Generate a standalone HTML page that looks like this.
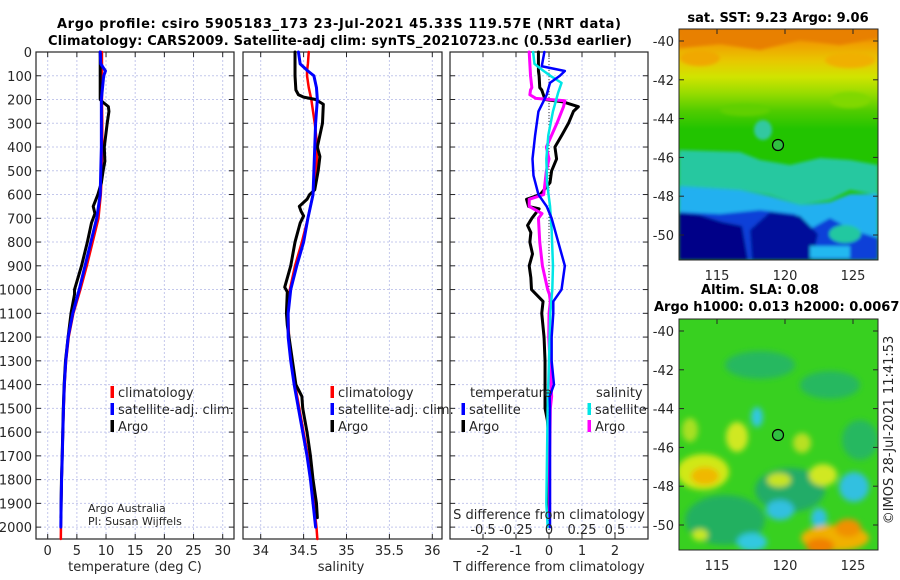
<!DOCTYPE html>
<html><head><meta charset="utf-8">
<style>
html,body{margin:0;padding:0;background:#fff;}
svg{display:block;font-family:"DejaVu Sans","Liberation Sans",sans-serif;}
.tk{font-size:13px;fill:#262626;}
.ttl{font-size:13px;font-weight:bold;fill:#000;}
</style></head>
<body>
<svg id="chart" width="900" height="580" viewBox="0 0 900 580" xmlns="http://www.w3.org/2000/svg">
<defs>
<linearGradient id="sstTop" x1="0" y1="0" x2="0" y2="1">
<stop offset="0" stop-color="#e07800"/><stop offset="0.15" stop-color="#f0a000"/>
<stop offset="0.32" stop-color="#e8c800"/><stop offset="0.48" stop-color="#d0e400"/>
<stop offset="0.64" stop-color="#98dc00"/><stop offset="0.82" stop-color="#50cc00"/>
<stop offset="1" stop-color="#22c400"/></linearGradient>
<filter id="blur3"><feGaussianBlur stdDeviation="3"/></filter>
<filter id="blur2"><feGaussianBlur stdDeviation="1.5"/></filter>
<clipPath id="clipMap1"><rect x="679" y="29" width="199" height="231"/></clipPath>
<clipPath id="clipMap2"><rect x="679" y="319" width="199" height="231"/></clipPath>
</defs>
<text class="ttl" x="57" y="28" textLength="564">Argo profile: csiro 5905183_173 23-Jul-2021 45.33S 119.57E (NRT data)</text>
<text class="ttl" x="48" y="45" textLength="584">Climatology: CARS2009. Satellite-adj clim: synTS_20210723.nc (0.53d earlier)</text>
<g id="panels"></g>
<g>
<g clip-path="url(#clipMap1)">
<rect x="679" y="29" width="199" height="231" fill="#22c400"/>
<rect x="679" y="29" width="199" height="100" fill="url(#sstTop)"/>
<g filter="url(#blur2)">
<polygon points="679,29 878,29 878,38 840,45 800,40 760,50 720,44 679,48" fill="#e88000"/>
<ellipse cx="700" cy="58" rx="20" ry="8" fill="#f0a800"/>
<ellipse cx="850" cy="60" rx="25" ry="8" fill="#f0b000"/>
<ellipse cx="745" cy="110" rx="25" ry="6" fill="#60d000"/>
<ellipse cx="850" cy="100" rx="20" ry="8" fill="#80d800"/>
<ellipse cx="763" cy="130" rx="9" ry="10" fill="#30c8a0"/>
<polygon points="679,150 740,152 760,160 790,165 820,158 850,160 878,165 878,195 850,190 830,200 800,205 770,195 740,190 679,186" fill="#28c8a0"/>
<polygon points="679,186 740,190 770,196 800,205 830,202 850,194 878,194 878,260 679,260" fill="#20b0f0"/>
<polygon points="679,212 720,214 760,210 795,214 812,228 830,218 852,230 878,238 878,260 679,260" fill="#1040d8"/>
<polygon points="679,213 700,215 722,222 742,226 748,260 679,260" fill="#000088"/>
<polygon points="770,212 800,216 818,234 812,260 752,260 750,230" fill="#000a9a"/>
<ellipse cx="845" cy="234" rx="16" ry="9" fill="#20c8a0"/>
<rect x="810" y="246" width="40" height="12" fill="#20b8f0"/>
</g>
</g>
<rect x="679" y="29" width="199" height="231" fill="none" stroke="#262626" stroke-width="1"/>
<circle cx="778" cy="145" r="5.5" fill="#30c040" stroke="#000" stroke-width="1.2"/>
<text class="ttl" x="778" y="22" text-anchor="middle">sat. SST: 9.23 Argo: 9.06</text>
</g>
<g>
<g clip-path="url(#clipMap2)">
<rect x="679" y="319" width="199" height="231" fill="#38d020"/>
<g filter="url(#blur3)">
<ellipse cx="725" cy="520" rx="40" ry="25" fill="#22b060"/>
<ellipse cx="760" cy="365" rx="35" ry="14" fill="#26b860"/>
<ellipse cx="830" cy="385" rx="30" ry="14" fill="#26b860"/>
<ellipse cx="790" cy="490" rx="35" ry="22" fill="#22ac68"/>
<ellipse cx="860" cy="440" rx="18" ry="20" fill="#28b860"/>
<ellipse cx="703" cy="472" rx="26" ry="18" fill="#d0e818"/>
<ellipse cx="705" cy="476" rx="14" ry="9" fill="#f0b800"/>
<ellipse cx="737" cy="437" rx="11" ry="15" fill="#d0e820"/>
<ellipse cx="690" cy="430" rx="8" ry="12" fill="#a8e020"/>
<ellipse cx="802" cy="443" rx="9" ry="10" fill="#b8e020"/>
<ellipse cx="823" cy="475" rx="14" ry="11" fill="#d0e820"/>
<ellipse cx="779" cy="480" rx="12" ry="7" fill="#c8e420"/>
<ellipse cx="757" cy="417" rx="6" ry="10" fill="#30c8e0"/>
<ellipse cx="780" cy="510" rx="14" ry="10" fill="#30c0e0"/>
<ellipse cx="854" cy="487" rx="15" ry="15" fill="#30c0e0"/>
<ellipse cx="819" cy="518" rx="8" ry="10" fill="#30c0e0"/>
<ellipse cx="752" cy="542" rx="15" ry="9" fill="#30c8e0"/>
<ellipse cx="835" cy="538" rx="34" ry="13" fill="#f0b000"/>
<ellipse cx="820" cy="546" rx="14" ry="8" fill="#f08000"/>
<ellipse cx="848" cy="528" rx="13" ry="9" fill="#f09000"/>
<ellipse cx="700" cy="535" rx="8" ry="6" fill="#c8e820"/>
</g>
</g>
<rect x="679" y="319" width="199" height="231" fill="none" stroke="#262626" stroke-width="1"/>
<circle cx="778" cy="435" r="5.5" fill="#30c040" stroke="#000" stroke-width="1.2"/>
<text class="ttl" x="760" y="294" text-anchor="middle">Altim. SLA: 0.08</text>
<text class="ttl" x="654" y="311">Argo h1000: 0.013 h2000: 0.0067</text>
</g>
<text class="tk" transform="translate(893,430) rotate(-90)" text-anchor="middle">©IMOS 28-Jul-2021 11:41:53</text>
</svg>
<script>
const depthTemp = [0,50,80,100,200,300,400,500,600,700,800,900,1000,1100,1200,1300,1400,1500,1600,1700,1800,1900,2000,2050];
const tempClim  = [9.3,9.3,9.3,9.3,9.3,9.35,9.35,9.3,9.1,8.7,7.7,6.7,5.6,4.4,3.6,3.15,2.9,2.75,2.62,2.5,2.4,2.32,2.27,2.25];
const tempSat   = [9.0,9.1,9.9,9.6,9.2,9.2,9.2,9.1,9.0,8.4,7.4,6.4,5.4,4.3,3.5,3.1,2.85,2.7,2.6,2.5,2.38,2.3,2.25,null];
const depthArgoT = [0,100,200,210,230,250,300,400,460,500,550,600,650,680,720,800,900,1000,1020,1100,1200,1300,1400,1500,1600,1700,1800,1900,1960];
const tempArgo   = [9.0,9.0,9.0,9.4,10.4,10.5,10.2,9.7,9.8,9.5,9.2,8.6,7.8,8.1,7.5,6.8,5.8,4.6,4.6,4.0,3.5,3.05,2.82,2.68,2.58,2.48,2.36,2.3,2.27];

const depthSal = [0,50,80,100,150,200,300,400,500,600,700,800,900,1000,1100,1200,1300,1400,1500,1600,1700,1800,1900,2000,2050];
const salClim  = [34.56,34.55,34.54,34.54,34.56,34.59,34.63,34.66,34.65,34.61,34.55,34.48,34.40,34.34,34.32,34.33,34.36,34.40,34.45,34.50,34.55,34.59,34.62,34.65,34.66];
const salSat   = [34.44,34.46,34.55,34.62,34.65,34.66,34.64,34.63,34.62,34.61,34.55,34.50,34.42,34.35,34.32,34.32,34.35,34.39,34.44,34.49,34.54,34.58,34.61,34.64,null];
const depthArgoS = [0,100,160,180,190,200,220,300,400,440,500,580,600,620,650,670,690,720,800,900,990,1010,1100,1150,1300,1400,1450,1500,1600,1700,1800,1900,1960];
const salArgo    = [34.40,34.40,34.41,34.44,34.50,34.64,34.73,34.72,34.66,34.69,34.67,34.63,34.57,34.54,34.45,34.47,34.50,34.46,34.40,34.35,34.28,34.31,34.30,34.31,34.37,34.41,34.48,34.49,34.54,34.58,34.61,34.65,34.66];

const depthDiff = [0,60,80,100,130,180,250,350,450,520,600,650,700,800,900,1000,1050,1100,1200,1300,1400,1450,1500,1700,1900,2000];
const tDiffSat  = [-0.14,-0.22,0.48,0.33,0.03,-0.07,-0.32,-0.42,-0.5,-0.47,-0.32,-0.07,0.08,0.28,0.48,0.38,0.13,0.13,0.08,0.08,0.15,0.02,0.03,0.03,0.03,0.03];
const depthDiffArgo = [0,80,100,150,160,200,210,230,250,300,350,400,450,500,550,600,620,650,660,700,730,760,800,850,900,950,1000,1020,1050,1100,1200,1300,1400,1500,1550,1600,1800,1960];
const tDiffArgo = [-0.32,-0.32,-0.3,-0.28,-0.22,-0.12,0.43,0.89,0.74,0.59,0.39,0.18,0.23,0.08,0.03,-0.27,-0.68,-0.62,-0.3,-0.52,-0.65,-0.55,-0.58,-0.5,-0.6,-0.55,-0.53,-0.39,-0.18,-0.22,-0.15,-0.12,-0.12,-0.12,-0.05,-0.02,-0.02,-0.02];
const depthSDiffSat = [0,50,80,100,130,170,250,350,450,550,650,750,900,1000,1100,1300,1500,1700,1900,2000];
const sDiffSat  = [-0.12,-0.11,-0.04,0.01,0.095,0.07,0.03,-0.005,-0.02,-0.015,0.008,0.02,0.03,0.025,0.01,0,-0.01,-0.015,-0.02,-0.01];
const depthSDiffArgo = [0,100,150,160,180,195,205,230,300,400,450,500,550,600,620,650,680,700,800,900,1000,1020,1050,1100,1200,1450,1500,1700,1960];
const sDiffArgo = [-0.15,-0.14,-0.13,-0.14,-0.145,-0.1,0.12,0.11,0.06,-0.02,0,-0.02,-0.03,-0.04,-0.15,-0.15,-0.053,-0.08,-0.07,-0.05,-0.01,0.003,0.01,0,-0.002,0.02,0.01,0.005,0.005];

const depthTicks = [0,100,200,300,400,500,600,700,800,900,1000,1100,1200,1300,1400,1500,1600,1700,1800,1900,2000];
const tempTicks = [0,5,10,15,20,25,30];
const salTicks = [34,34.5,35,35.5,36];
const salTickLabels = ["34","34.5","35","35.5","36"];
const tdTicks = [-2,-1,0,1,2];
const sdTicks = [-0.5,-0.25,0,0.25,0.5];
const sdTickLabels = ["-0.5","-0.25","0","0.25","0.5"];

const NS = "http://www.w3.org/2000/svg";
const root = document.getElementById('panels');
const Y0 = 52, Y1 = 539, DMAX = 2050;
function yScale(d){ return Y0 + d/DMAX*(Y1-Y0); }
function mk(tag, attrs, parent){
  const e = document.createElementNS(NS, tag);
  for (const k in attrs) e.setAttribute(k, attrs[k]);
  (parent||root).appendChild(e);
  return e;
}
function linScale(d0,d1,r0,r1){ return v => r0 + (v-d0)/(d1-d0)*(r1-r0); }

function drawPanel(name, L, R, xs, ticks, tickLbls, showDepthLabels){
  const g = mk('g', {});
  
  
  ticks.forEach(t => {
    const x = xs(t);
    const l = mk('line', {x1:x, x2:x, y1:Y0, y2:Y1, stroke:'#c4c8ec', 'stroke-width':1, 'stroke-dasharray':'2,2'}, g);
    
    
  });
  depthTicks.forEach(d => {
    const y = yScale(d);
    const l = mk('line', {x1:L, x2:R, y1:y, y2:y, stroke:'#c4c8ec', 'stroke-width':1, 'stroke-dasharray':'2,2'}, g);
    
    
    mk('line', {x1:L, x2:L+5, y1:y, y2:y, stroke:'#262626', 'stroke-width':1}, g);
    mk('line', {x1:R-5, x2:R, y1:y, y2:y, stroke:'#262626', 'stroke-width':1}, g);
    if (showDepthLabels){
      const t = mk('text', {x:L-4, y:y+5, 'text-anchor':'end', class:'tk'}, g);
      t.textContent = d;
      
      
    }
  });
  ticks.forEach((t,i) => {
    const x = xs(t);
    mk('line', {x1:x, x2:x, y1:Y1, y2:Y1-5, stroke:'#262626', 'stroke-width':1}, g);
    mk('line', {x1:x, x2:x, y1:Y0, y2:Y0+5, stroke:'#262626', 'stroke-width':1}, g);
    if (tickLbls){
      const tx = mk('text', {x:x, y:555, 'text-anchor':'middle', class:'tk'}, g);
      tx.textContent = tickLbls[i];
      
      
    }
  });
  const fr = mk('rect', {x:L, y:Y0, width:R-L, height:Y1-Y0, fill:'none', stroke:'#262626', 'stroke-width':1.2}, g);
  
  
  return g;
}
function drawLine(g, name, depths, vals, xs, color, w){
  let d = '';
  depths.forEach((dep,i) => {
    if (vals[i] === null || vals[i] === undefined) return;
    d += (d ? 'L' : 'M') + xs(vals[i]).toFixed(2) + ',' + yScale(dep).toFixed(2);
  });
  const p = mk('path', {d:d, fill:'none', stroke:color, 'stroke-width':w, 'stroke-linejoin':'round', 'stroke-linecap':'round'}, g);
  
  
}
function legend(g, x, y, color, label, name){
  const r = mk('rect', {x:x-1.5, y:y-11, width:3.5, height:12, fill:color}, g);
  
  
  const t = mk('text', {x:x+6, y:y, class:'tk'}, g);
  t.textContent = label;
  
  
}
function label(g, x, y, txt, name, anchor){
  const t = mk('text', {x:x, y:y, class:'tk', 'text-anchor':anchor||'middle'}, g);
  t.textContent = txt;
  
  
  return t;
}

const xT = linScale(0, 30, 47.7, 222.7);
const g1 = drawPanel('temperature-panel', 36, 234, xT, tempTicks, tempTicks.map(String), true);
drawLine(g1, 'temperature-climatology-line', depthTemp, tempClim, xT, '#ff0000', 2.5);
drawLine(g1, 'temperature-argo-line', depthArgoT, tempArgo, xT, '#000000', 3);
drawLine(g1, 'temperature-satellite-line', depthTemp, tempSat, xT, '#0000ff', 3);
legend(g1, 112, 397, '#ff0000', 'climatology', 'legend-climatology');
legend(g1, 112, 414, '#0000ff', 'satellite-adj. clim.', 'legend-satellite-adj');
legend(g1, 112, 431, '#000000', 'Argo', 'legend-argo');
const a1 = label(g1, 88, 512, 'Argo Australia', 'credit-argo-australia', 'start'); a1.setAttribute('style','font-size:11px');
const a2 = label(g1, 88, 525, 'PI: Susan Wijffels', 'credit-pi', 'start'); a2.setAttribute('style','font-size:11px');
label(g1, 135, 571, 'temperature (deg C)', 'temperature-axis-title');

const xS = linScale(34, 36, 260.7, 432.3);
const g2 = drawPanel('salinity-panel', 243, 442, xS, salTicks, salTickLabels, false);
drawLine(g2, 'salinity-climatology-line', depthSal, salClim, xS, '#ff0000', 2.5);
drawLine(g2, 'salinity-argo-line', depthArgoS, salArgo, xS, '#000000', 3);
drawLine(g2, 'salinity-satellite-line', depthSal, salSat, xS, '#0000ff', 3);
legend(g2, 332, 397, '#ff0000', 'climatology', 'legend-climatology-sal');
legend(g2, 332, 414, '#0000ff', 'satellite-adj. clim.', 'legend-satellite-adj-sal');
legend(g2, 332, 431, '#000000', 'Argo', 'legend-argo-sal');
label(g2, 341, 571, 'salinity', 'salinity-axis-title');

const xD = linScale(0, 2, 549, 615);
const xSD = linScale(0, 0.5, 549, 615);
const g3 = drawPanel('difference-panel', 450, 648, xD, tdTicks, tdTicks.map(String), false);
const zl = mk('line', {x1:xD(0), x2:xD(0), y1:Y0, y2:Y1, stroke:'#333', 'stroke-width':1, 'stroke-dasharray':'1,2'}, g3);


drawLine(g3, 'temperature-diff-argo-line', depthDiffArgo, tDiffArgo, xD, '#000000', 3);
drawLine(g3, 'salinity-diff-argo-line', depthSDiffArgo, sDiffArgo, xSD, '#ff00ff', 3);
drawLine(g3, 'salinity-diff-satellite-line', depthSDiffSat, sDiffSat, xSD, '#00e6e6', 2.5);
drawLine(g3, 'temperature-diff-satellite-line', depthDiff, tDiffSat, xD, '#0000ff', 2.5);
label(g3, 470, 397, 'temperature', 'legend-temperature-heading', 'start');
legend(g3, 463, 414, '#0000ff', 'satellite', 'legend-temp-satellite');
legend(g3, 463, 431, '#000000', 'Argo', 'legend-temp-argo');
label(g3, 596, 397, 'salinity', 'legend-salinity-heading', 'start');
legend(g3, 589, 414, '#00e6e6', 'satellite', 'legend-sal-satellite');
legend(g3, 589, 431, '#ff00ff', 'Argo', 'legend-sal-argo');
label(g3, 549, 519, 'S difference from climatology', 'salinity-diff-axis-title');
sdTicks.forEach((t,i) => { label(g3, xSD(t), 534, sdTickLabels[i], 'salinity-diff-tick-label'); });
label(g3, 549, 571, 'T difference from climatology', 'temperature-diff-axis-title');

const svg = document.getElementById('chart');
function mapAxes(top, yLat40, lonLabelY, nm){
  const g = mk('g', {}, svg);
  
  
  [-40,-42,-44,-46,-48,-50].forEach(lat => {
    const y = yLat40 + (-40-lat)*19.4;
    mk('line', {x1:679, x2:684, y1:y, y2:y, stroke:'#262626'}, g);
    mk('line', {x1:873, x2:878, y1:y, y2:y, stroke:'#262626'}, g);
    label(g, 674, y+5, String(lat), 'latitude-tick-label', 'end');
  });
  [115,120,125].forEach(lon => {
    const x = 717 + (lon-115)*13.6;
    mk('line', {x1:x, x2:x, y1:top, y2:top+5, stroke:'#262626'}, g);
    label(g, x, lonLabelY, String(lon), 'longitude-tick-label');
  });
}
mapAxes(29, 41, 280, 'sst-map-axes');
mapAxes(319, 331, 570, 'sla-map-axes');
</script>
</body></html>
